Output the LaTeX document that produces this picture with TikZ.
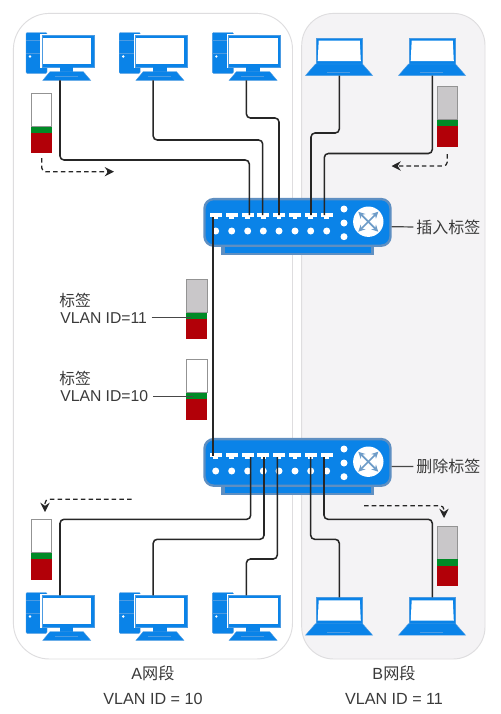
\documentclass[tikz,border=0pt]{standalone}
\usepackage{fontspec}
\setmainfont{Liberation Sans}
\newfontfamily\cjk{Noto Sans CJK SC}
\usetikzlibrary{arrows.meta,shapes.geometric}
\definecolor{devblue}{HTML}{0A83E8}
\definecolor{devedge}{HTML}{4C9BE2}
\definecolor{swedge}{HTML}{5E8FC2}
\definecolor{crossblue}{HTML}{6E9CC8}
\definecolor{tagred}{HTML}{B20008}
\definecolor{taggreen}{HTML}{008A26}
\definecolor{taggray}{HTML}{C9C7C9}
\definecolor{panelb}{HTML}{F4F3F5}
\definecolor{panelline}{HTML}{DEDDDF}
\definecolor{wirecol}{HTML}{262626}
\definecolor{txt}{HTML}{3A3A3A}
\tikzset{
  wire/.style={draw=wirecol,line width=1.15pt,rounded corners=3pt},
  leader/.style={draw=wirecol!85,line width=0.9pt},
  dasharrow/.style={draw=wirecol,line width=0.95pt,dash pattern=on 3.4pt off 2.4pt,rounded corners=3pt,-{Stealth[length=7pt,width=7pt,inset=2.4pt]}},
  lbl/.style={text=txt,font=\fontsize{11.8pt}{13pt}\selectfont,inner sep=0pt},
  lblb/.style={text=txt,font=\fontsize{12.1pt}{14pt}\selectfont,inner sep=0pt},
  panel/.style={draw=panelline,line width=0.7pt},
  swbody/.style={draw=swedge,fill=devblue,line width=1.8pt,rounded corners=7pt,minimum width=139.5pt,minimum height=35pt,inner sep=0pt},
  crossarrow/.style={draw=crossblue,line width=1.3pt,{Stealth[length=5pt,width=5pt]}-{Stealth[length=5pt,width=5pt]}},
}
% PC icon: #1 name, #2 dx, #3 dy; connector anchors are (#1t) and (#1b)
\newcommand{\pcicon}[3]{%
\begin{scope}[shift={(#2,#3)}]
  \fill[devblue,draw=devedge,line width=0.3pt,rounded corners=0.8pt] (26,32.5) rectangle (47,73.3);
  \draw[devedge,line width=0.3pt] (26,40) -- (41,40) (26,53) -- (41,53);
  \fill[white] (30,56.5) circle (1pt);
  \fill[white] (40.4,34.2) rectangle (95,68.2);
  \fill[devblue,draw=devedge,line width=0.3pt] (41.7,35.3) rectangle (94,67.2);
  \fill[white] (42.6,38.2) rectangle (91.2,64.3);
  \fill[devblue] (60,67) rectangle (73.3,72);
  \fill[devblue,draw=devedge,line width=0.3pt] (50,71.7) -- (83.3,71.7) -- (90.7,80.4) -- (42.7,80.4) -- cycle;
  \draw[devedge,line width=0.3pt] (55,76) -- (78,76);
  \coordinate (#1t) at (60,35.3);
  \coordinate (#1b) at (60,80.4);
\end{scope}}
% laptop icon
\newcommand{\lapicon}[3]{%
\begin{scope}[shift={(#2,#3)}]
  \fill[devblue,draw=devedge,line width=0.3pt] (316,37.7) -- (362,37.7) -- (362,64) -- (316,64) -- cycle;
  \fill[white] (318.7,40.6) -- (359.8,40.6) -- (360.8,61) -- (317.7,61) -- cycle;
  \fill[devblue,draw=devedge,line width=0.3pt] (315.5,64) -- (362.5,64) -- (372.6,75.5) -- (305.5,75.5) -- cycle;
  \draw[devedge,line width=0.3pt] (327,72.2) -- (350,72.2);
  \coordinate (#1t) at (339.3,37.7);
  \coordinate (#1b) at (339.3,75.5);
\end{scope}}
% tag: #1 left x, #2 top y, #3 colour of upper part
\newcommand{\tagicon}[3]{%
  \fill[#3,draw=gray!85,line width=0.6pt] (#1,#2) rectangle ++(20.8,33.2);
  \fill[taggreen] (#1,#2) ++(0,33.2) rectangle ++(20.8,6.7);
  \fill[tagred] (#1,#2) ++(0,39.9) rectangle ++(20.8,20.2);
}
% switch: #1 name, #2 dy
\newcommand{\switchicon}[2]{%
\begin{scope}[shift={(0,#2)}]
  \fill[swedge] (221,244) rectangle (374,255);
  \fill[devblue] (224.5,246) rectangle (370.5,252.7);
  \node[swbody] (#1) at (297.5,222.4) {};
  \foreach \n/\px in {1/215.7,2/231.7,3/247.7,4/263.3,5/279,6/295,7/310.7,8/326.7}{
    \fill[white] (\px-5.9,212.5) rectangle (\px+5.9,217.4);
    \fill[white] (\px-2.4,217.4) rectangle (\px+2.4,219.2);
    \fill[white] (\px,231) circle (3.5);
    \coordinate (#1p\n) at (\px,215);
  }
  \fill[white] (344,209) circle (3.5);
  \fill[white] (344,223) circle (3.5);
  \fill[white] (344,236.7) circle (3.5);
  \fill[white] (368.3,221.7) circle (15.2);
  \draw[crossarrow] (358.3,211.7) -- (378.3,231.7);
  \draw[crossarrow] (358.3,231.7) -- (378.3,211.7);
\end{scope}}
\begin{document}
\begin{tikzpicture}[x=0.75pt,y=-0.75pt]
\useasboundingbox (0,0) rectangle (500,714);
\fill[white] (0,0) rectangle (500,714);
% panels
\draw[panel,fill=white] (13.4,13.4) [rounded corners=27pt] rectangle (292.5,659);
\draw[panel,fill=panelb] (301.7,13.4) [rounded corners=24pt] rectangle (485,659);
% devices
\pcicon{pca}{0}{0}
\pcicon{pcb}{93.2}{0}
\pcicon{pcc}{186.4}{0}
\lapicon{lpa}{0}{0}
\lapicon{lpb}{93}{0}
\pcicon{pcd}{0}{560}
\pcicon{pce}{93.2}{560}
\pcicon{pcf}{186.4}{560}
\lapicon{lpc}{0}{559.7}
\lapicon{lpd}{93}{559.7}
\switchicon{swa}{0}
\switchicon{swb}{240}
% wires, upper switch
\draw[wire] (pcab) -- (pcab |- 0,160) -- (249.3,160) -- (249.3,215);
\draw[wire] (pcbb) -- (pcbb |- 0,140) -- (262.7,140) -- (262.7,215);
\draw[wire] (pccb) -- (pccb |- 0,118) -- (279,118) -- (swap5);
\draw[wire] (lpab) -- (lpab |- 0,133) -- (311,133) -- (311,215);
\draw[wire] (lpbb) -- (lpbb |- 0,153.5) -- (324.3,153.5) -- (324.3,215);
% trunk
\draw[wire] (213,217) -- (213,456);
% wires, lower switch
\draw[wire] (250.7,457) -- (250.7,519.3) -- (pcdt |- 0,519.3) -- (pcdt);
\draw[wire] (264,457) -- (264,539.3) -- (pcet |- 0,539.3) -- (pcet);
\draw[wire] (277.3,457) -- (277.3,559) -- (pcft |- 0,559) -- (pcft);
\draw[wire] (310.7,457) -- (310.7,539.3) -- (lpct |- 0,539.3) -- (lpct);
\draw[wire] (324,457) -- (324,519.3) -- (lpdt |- 0,519.3) -- (lpdt);
% switch labels
\node[lbl,font=\fontsize{12pt}{14pt}\selectfont,anchor=west] (lblins) at (416,227) {\cjk 插入标签};
\node[lbl,font=\fontsize{12pt}{14pt}\selectfont,anchor=west] (lbldel) at (416,466.5) {\cjk 删除标签};
\draw[leader,shorten >=2pt] (swa.east) ++(0,4.3) -- (lblins.west);
\draw[leader,shorten >=2pt] (swb.east) ++(0,4.1) -- (lbldel.west);
% tags
\tagicon{31}{93.3}{white}
\tagicon{437}{86.4}{taggray}
\tagicon{186.2}{279.3}{taggray}
\tagicon{186.2}{359.4}{white}
\tagicon{31}{519.4}{white}
\tagicon{437}{526}{taggray}
% tag labels
\node[lbl,anchor=west] (t1) at (59,300.7) {\cjk 标签};
\node[lbl,anchor=west] (v1) at (60,318) {VLAN ID=11};
\node[lbl,anchor=west] (t2) at (59,378) {\cjk 标签};
\node[lbl,anchor=west] (v2) at (60,396.5) {VLAN ID=10};
\coordinate (tagl1) at (190.7,317.4);
\coordinate (tagl2) at (193,396.7);
\draw[leader] (151.7,317.4) -- (tagl1);
\draw[leader] (153.3,396.7) -- (tagl2);
% dashed arrows
\draw[dasharrow] (41.7,158) -- (41.7,171.7) -- (114,171.7);
\draw[dasharrow] (447.3,154) -- (447.3,166) -- (391.5,166);
\draw[dasharrow] (131.7,499.3) -- (45,499.3) -- (45,512);
\draw[dasharrow] (364,505.7) -- (444,505.7) -- (444,518);
% bottom captions
\node[lblb] (ca) at (153,673) {A\cjk 网段};
\node[lblb] (va) at (153,699) {VLAN ID = 10};
\node[lblb] (cb) at (394,673) {B\cjk 网段};
\node[lblb] (vb) at (394,699) {VLAN ID = 11};
\end{tikzpicture}
\end{document}
